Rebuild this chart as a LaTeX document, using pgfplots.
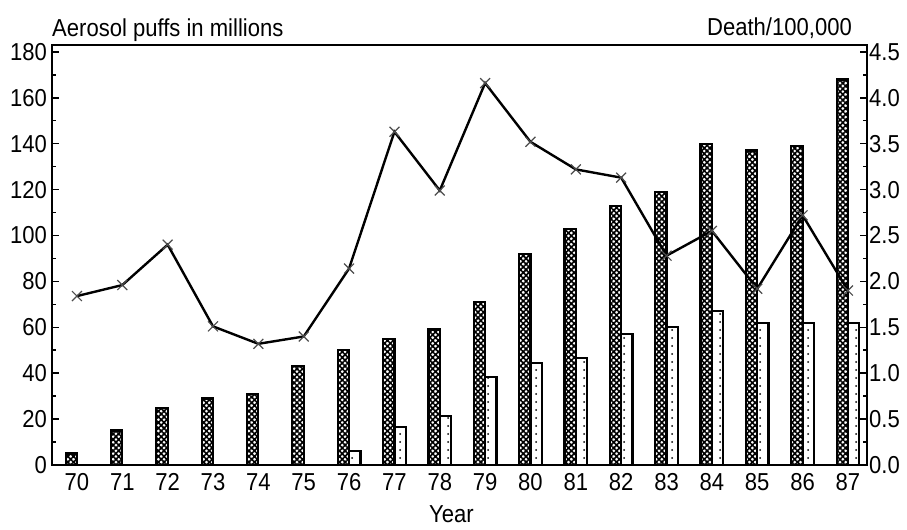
\documentclass[border=0pt]{standalone}
\usepackage{pgfplots}
\pgfplotsset{compat=1.18}
\usepackage{fontspec}
\setmainfont{Liberation Sans}[FakeStretch=0.9]
\usetikzlibrary{patterns.meta}
\newcommand\cf{\fontsize{24.5bp}{28bp}\selectfont}
\pgfplotsset{
  common/.style={
    scale only axis, width=815bp, height=420bp,
    xmin=69.45, xmax=87.42,
    tick align=inside,
    major tick length=7bp, minor tick length=4bp,
    every tick/.style={line width=1.5bp, black},
    axis line style={line width=2.2bp},
    tick label style={font=\cf},
    /pgf/number format/assume math mode=true,
  }
}
\begin{document}
\begin{tikzpicture}
\begin{axis}[common,
  ymin=0, ymax=183,
  xtick={70,...,87},
  xtick style={draw=none},
  ytick={0,20,40,60,80,100,120,140,160,180},
  minor y tick num=1,
  ytick pos=left,
  yticklabel style={inner sep=0pt, xshift=-5bp},
  xticklabel style={inner sep=0pt, yshift=-8bp},
]
\addplot[ybar, bar width=0.25, bar shift=-0.125, draw=black, line width=2.2bp,
  pattern={Hatch[angle=45,distance=4bp,line width=1.6bp]}]
  coordinates {(70,5) (71,15) (72,25) (73,29) (74,31) (75,43) (76,50) (77,55) (78,59)
  (79,71) (80,92) (81,103) (82,113) (83,119) (84,140) (85,137) (86,139) (87,168)};
\addplot[ybar, bar width=0.25, bar shift=0.125, draw=black, line width=2.2bp,
  pattern={Dots[distance=8bp,radius=1bp]}]
  coordinates {(76,6) (77,16.5) (78,21.5) (79,38.5) (80,44.5) (81,46.5) (82,57) (83,60)
  (84,67) (85,62) (86,62) (87,62)};
\coordinate (O) at (rel axis cs:0,0);
\coordinate (TL) at (rel axis cs:0,1);
\coordinate (TR) at (rel axis cs:1,1);
\coordinate (B) at (rel axis cs:0.49,0);
\end{axis}
\begin{axis}[common,
  ymin=0, ymax=4.575,
  axis y line*=right, axis x line=none,
  ytick={0,0.5,1,1.5,2,2.5,3,3.5,4,4.5},
  minor y tick num=1,
  yticklabel style={inner sep=0pt, xshift=2bp,
    /pgf/number format/.cd, fixed, fixed zerofill, precision=1},
]
\addplot[line width=2.4bp, black, mark=x, mark size=7bp,
  mark options={line width=1.2bp, draw=black!70}]
  coordinates {(70,1.84) (71,1.96) (72,2.40) (73,1.51) (74,1.32) (75,1.40) (76,2.14)
  (77,3.63) (78,2.99) (79,4.16) (80,3.52) (81,3.22) (82,3.13) (83,2.28) (84,2.55)
  (85,1.92) (86,2.72) (87,1.90)};
\end{axis}
\node[anchor=base west, font=\cf, inner sep=0pt] at ([yshift=8bp]TL) {Aerosol puffs in millions};
\node[anchor=base east, font=\cf, inner sep=0pt] at ([xshift=-15bp,yshift=9bp]TR) {Death/100,000};
\node[anchor=base, font=\cf, inner sep=0pt] at ([yshift=-57bp]B) {Year};
\path (O) ++(-52bp,-65bp) rectangle ++(907bp,530bp);
\end{tikzpicture}
\end{document}
